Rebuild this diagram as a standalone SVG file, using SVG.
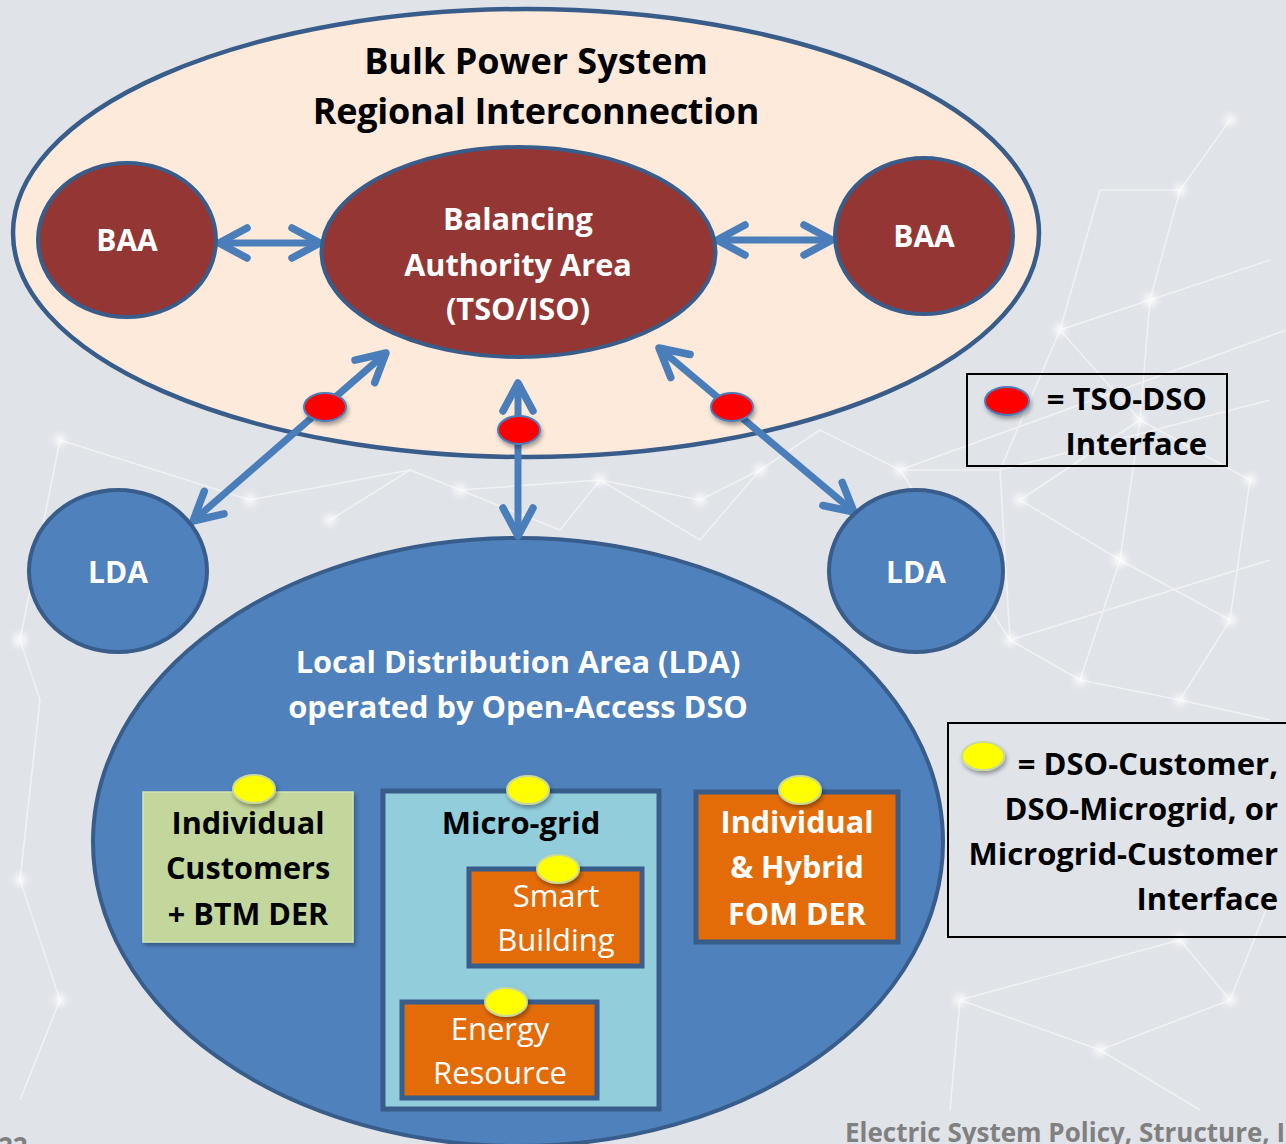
<svg xmlns="http://www.w3.org/2000/svg" width="1286" height="1144" viewBox="0 0 1286 1144">
  <defs>
    <style>
      .lbl { font-family: "Open Sans", "Liberation Sans", sans-serif; font-weight: 700; text-anchor: middle; }
      .light { font-family: "Open Sans", "Liberation Sans", sans-serif; font-weight: 400; text-anchor: middle; fill: #ffffff; }
      .w { fill: #ffffff; }
      .k { fill: #000000; }
      .leg { font-family: "Open Sans", "Liberation Sans", sans-serif; font-weight: 700; font-size: 31px; text-anchor: end; fill: #000000; }
      .baa { fill: #943634; stroke: #385d8a; stroke-width: 4; }
      .lda { fill: #4f81bd; stroke: #385d8a; stroke-width: 4; }
      .orange { fill: #e36c09; stroke: #385d8a; stroke-width: 5; }
      .link { stroke: #4a7ebb; stroke-width: 7; fill: none; marker-start: url(#chev); marker-end: url(#chev); }
      .tso { fill: #ff0000; stroke: #4a7ebb; stroke-width: 2; filter: url(#shadow); }
      .dso { fill: #ffff00; stroke: #c9d99a; stroke-width: 2; filter: url(#shadow); }
      .net { stroke: #ffffff; stroke-opacity: 0.5; stroke-width: 1.6; fill: none; }
      .knot { fill: #ffffff; opacity: 0.8; filter: url(#soft); }
      .foot { font-family: "Open Sans", "Liberation Sans", sans-serif; font-weight: 700; font-size: 26px; fill: #808080; }
    </style>
    <marker id="chev" markerUnits="userSpaceOnUse" viewBox="-40 -25 50 50" markerWidth="50" markerHeight="50" refX="0" refY="0" orient="auto-start-reverse" overflow="visible">
      <path d="M-28,-15 L0,0 L-28,15" fill="none" stroke="#4a7ebb" stroke-width="7.5" stroke-linecap="round" stroke-linejoin="round"/>
    </marker>
    <filter id="shadow" x="-40%" y="-40%" width="180%" height="200%">
      <feDropShadow dx="1.5" dy="3" stdDeviation="2" flood-color="#000000" flood-opacity="0.35"/>
    </filter>
    <filter id="boxshadow" x="-10%" y="-10%" width="120%" height="120%">
      <feDropShadow dx="2" dy="3" stdDeviation="2" flood-color="#000000" flood-opacity="0.3"/>
    </filter>
    <filter id="soft" x="-100%" y="-100%" width="300%" height="300%">
      <feGaussianBlur stdDeviation="3"/>
    </filter>
  </defs>

  <!-- backdrop with a faint network texture -->
  <g id="backdrop">
    <rect x="0" y="0" width="1286" height="1144" fill="#e0e3e8"/>
    <path class="net" d="M1150,300 L1060,330 L1000,470 L900,470 L820,430 L760,470 L700,500 L600,480 L460,490 L410,470 L330,520
      M1150,300 L1270,260 M1150,300 L1140,420 L1250,480 M1140,420 L1020,500 M1140,420 L1120,560 L1230,620 M1120,560 L1080,680 L1180,700 L1270,720
      M1020,500 L1120,560 M1000,470 L1010,640 L1080,680 M1250,480 L1230,620 M1060,330 L1140,420 M900,470 L1010,640
      M600,480 L700,540 L760,470 M460,490 L560,530 L600,480 M410,470 L250,500 L60,440 M60,440 L20,640 L40,700
      M1180,700 L1230,620 M1150,300 L1180,190 L1230,120 M1180,190 L1100,190 L1060,330
      M1010,640 L1270,560 M1000,470 L1270,400 M900,470 L1286,330
      M960,1000 L1100,1050 L1230,1000 L1270,900 M1100,1050 L1200,1110 M960,1000 L950,1110 M1230,1000 L1180,940 L960,1000
      M60,1000 L20,880 L40,700 M60,1000 L20,1100"/>
    <g>
      <circle class="knot" cx="1060" cy="330" r="6"/>
      <circle class="knot" cx="1150" cy="300" r="7"/>
      <circle class="knot" cx="1140" cy="420" r="6"/>
      <circle class="knot" cx="1250" cy="480" r="6"/>
      <circle class="knot" cx="1020" cy="500" r="6"/>
      <circle class="knot" cx="1120" cy="560" r="7"/>
      <circle class="knot" cx="1230" cy="620" r="6"/>
      <circle class="knot" cx="1080" cy="680" r="6"/>
      <circle class="knot" cx="1180" cy="700" r="6"/>
      <circle class="knot" cx="1010" cy="640" r="6"/>
      <circle class="knot" cx="900" cy="470" r="6"/>
      <circle class="knot" cx="760" cy="470" r="6"/>
      <circle class="knot" cx="700" cy="500" r="6"/>
      <circle class="knot" cx="600" cy="480" r="6"/>
      <circle class="knot" cx="460" cy="490" r="6"/>
      <circle class="knot" cx="330" cy="520" r="6"/>
      <circle class="knot" cx="250" cy="500" r="6"/>
      <circle class="knot" cx="60" cy="440" r="6"/>
      <circle class="knot" cx="20" cy="640" r="7"/>
      <circle class="knot" cx="1180" cy="190" r="6"/>
      <circle class="knot" cx="1230" cy="120" r="6"/>
      <circle class="knot" cx="960" cy="1000" r="6"/>
      <circle class="knot" cx="1100" cy="1050" r="6"/>
      <circle class="knot" cx="1230" cy="1000" r="6"/>
      <circle class="knot" cx="1180" cy="940" r="6"/>
      <circle class="knot" cx="60" cy="1000" r="6"/>
      <circle class="knot" cx="20" cy="880" r="6"/>
    </g>
  </g>

  <!-- bulk power system region -->
  <g id="bulk-power-system">
    <ellipse cx="526" cy="233" rx="513" ry="224" fill="#fdeadb" stroke="#385d8a" stroke-width="4.5"/>
    <text class="lbl k" x="536" y="74" font-size="36">Bulk Power System</text>
    <text class="lbl k" x="536" y="124" font-size="36" letter-spacing="-0.3">Regional Interconnection</text>
  </g>

  <!-- local distribution area (large) -->
  <g id="lda-main">
    <ellipse class="lda" cx="518" cy="842" rx="425" ry="304" stroke-width="5"/>
    <text class="lbl w" x="518" y="673" font-size="30.8">Local Distribution Area (LDA)</text>
    <text class="lbl w" x="518" y="718" font-size="30.8">operated by Open-Access DSO</text>
  </g>

  <!-- connectors -->
  <g id="connectors">
    <line class="link" x1="219" y1="243" x2="320" y2="243"/>
    <line class="link" x1="717" y1="240" x2="832" y2="240"/>
    <line class="link" x1="386" y1="353" x2="193" y2="521"/>
    <line class="link" x1="518" y1="383" x2="518" y2="536"/>
    <line class="link" x1="659" y1="348" x2="854" y2="512"/>
  </g>

  <g id="baa-left">
    <ellipse class="baa" cx="127" cy="240" rx="89" ry="77"/>
    <text class="lbl w" x="127" y="251" font-size="30">BAA</text>
  </g>
  <g id="baa-right">
    <ellipse class="baa" cx="924" cy="236" rx="89" ry="78"/>
    <text class="lbl w" x="924" y="247" font-size="30">BAA</text>
  </g>
  <g id="baa-central">
    <ellipse class="baa" cx="518.5" cy="252" rx="197" ry="105"/>
    <text class="lbl w" x="518" y="230" font-size="30.7">Balancing</text>
    <text class="lbl w" x="518" y="276" font-size="30.7">Authority Area</text>
    <text class="lbl w" x="518" y="320" font-size="30.7">(TSO/ISO)</text>
  </g>

  <g id="lda-left">
    <ellipse class="lda" cx="118" cy="571" rx="89" ry="81"/>
    <text class="lbl w" x="118" y="583" font-size="30">LDA</text>
  </g>
  <g id="lda-right">
    <ellipse class="lda" cx="916" cy="571" rx="87" ry="81"/>
    <text class="lbl w" x="916" y="583" font-size="30">LDA</text>
  </g>

  <!-- TSO-DSO interface points -->
  <g id="tso-dso-points">
    <ellipse class="tso" cx="325" cy="407" rx="21" ry="14"/>
    <ellipse class="tso" cx="519" cy="430" rx="21" ry="14"/>
    <ellipse class="tso" cx="732" cy="407" rx="21" ry="14"/>
  </g>

  <g id="customers-btm">
    <rect x="143" y="792" width="210" height="150" fill="#c3d69b" stroke="#d4e2b4" stroke-width="1.5" filter="url(#boxshadow)"/>
    <text class="lbl k" x="248" y="834" font-size="30.6">Individual</text>
    <text class="lbl k" x="248" y="879" font-size="30.6">Customers</text>
    <text class="lbl k" x="248" y="925" font-size="30.6">+ BTM DER</text>
  </g>

  <g id="microgrid">
    <rect x="383" y="791" width="276" height="318" fill="#92cddc" stroke="#385d8a" stroke-width="5"/>
    <text class="lbl k" x="521" y="834" font-size="31">Micro-grid</text>
  </g>

  <g id="smart-building">
    <rect class="orange" x="469" y="869" width="173" height="97"/>
    <text class="light" x="556" y="907" font-size="31">Smart</text>
    <text class="light" x="556" y="951" font-size="31">Building</text>
  </g>

  <g id="energy-resource">
    <rect class="orange" x="402" y="1002" width="195" height="96"/>
    <text class="light" x="500" y="1040" font-size="31">Energy</text>
    <text class="light" x="500" y="1084" font-size="31">Resource</text>
  </g>

  <g id="fom-der">
    <rect class="orange" x="696" y="792" width="202" height="150"/>
    <text class="lbl w" x="797" y="833" font-size="30.6">Individual</text>
    <text class="lbl w" x="797" y="878" font-size="30.6">&amp; Hybrid</text>
    <text class="lbl w" x="797" y="925" font-size="30.6">FOM DER</text>
  </g>

  <!-- DSO / microgrid / customer interface points -->
  <g id="dso-points">
    <ellipse class="dso" cx="254" cy="789" rx="21" ry="14"/>
    <ellipse class="dso" cx="528" cy="790" rx="21" ry="14"/>
    <ellipse class="dso" cx="558" cy="869" rx="21" ry="14"/>
    <ellipse class="dso" cx="506" cy="1002" rx="21" ry="14"/>
    <ellipse class="dso" cx="800" cy="790" rx="21" ry="14"/>
  </g>

  <!-- legends -->
  <g id="legend-tso-dso">
    <rect x="967" y="374" width="260" height="92" fill="none" stroke="#000000" stroke-width="2"/>
    <ellipse class="tso" cx="1007" cy="401" rx="22" ry="14"/>
    <text class="leg" x="1207" y="410">= TSO-DSO</text>
    <text class="leg" x="1207" y="455">Interface</text>
  </g>
  <g id="legend-dso">
    <rect x="948" y="723" width="345" height="214" fill="none" stroke="#000000" stroke-width="2"/>
    <ellipse class="dso" cx="983" cy="756" rx="21" ry="14"/>
    <text class="leg" x="1278" y="775">= DSO-Customer,</text>
    <text class="leg" x="1278" y="820">DSO-Microgrid, or</text>
    <text class="leg" x="1278" y="865">Microgrid-Customer</text>
    <text class="leg" x="1278" y="910">Interface</text>
  </g>

  <!-- footer -->
  <g id="footer">
    <text class="foot" x="845" y="1142">Electric System Policy, Structure, I</text>
    <text class="foot" x="-2" y="1156">22</text>
  </g>
</svg>
